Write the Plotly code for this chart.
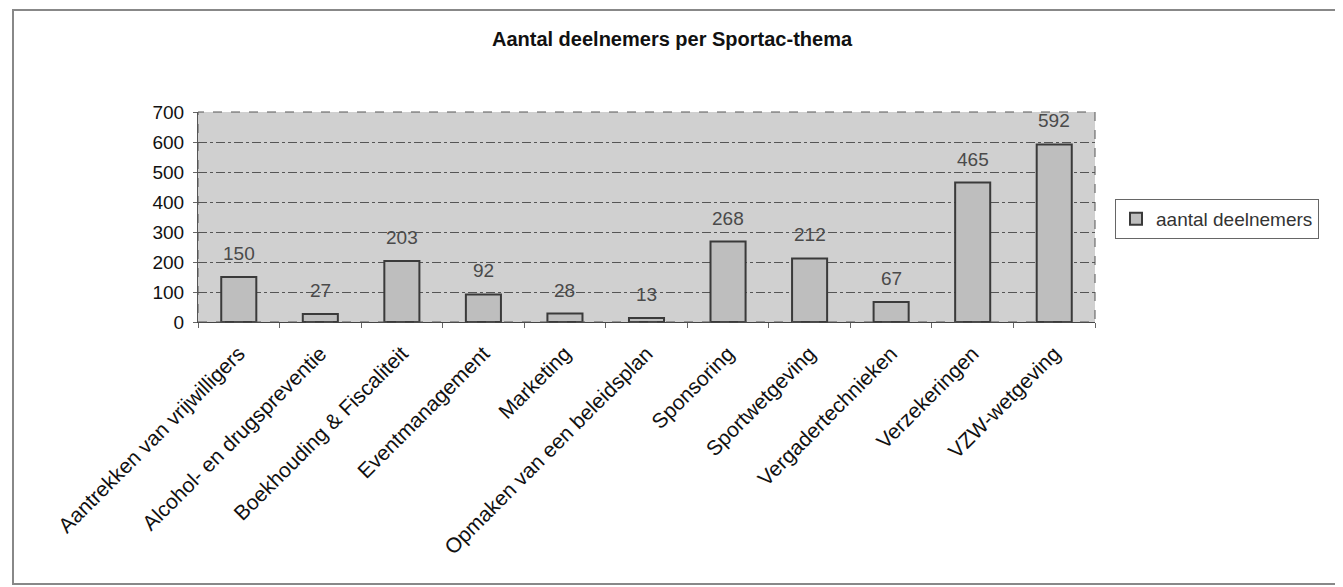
import plotly.graph_objects as go

categories = ["Aantrekken van vrijwilligers", "Alcohol- en drugspreventie",
              "Boekhouding & Fiscaliteit", "Eventmanagement", "Marketing",
              "Opmaken van een beleidsplan", "Sponsoring", "Sportwetgeving",
              "Vergadertechnieken", "Verzekeringen", "VZW-wetgeving"]
values = [150, 27, 203, 92, 28, 13, 268, 212, 67, 465, 592]
series_name = "aantal deelnemers"
y_ticks = [0, 100, 200, 300, 400, 500, 600, 700]

FONT = "Liberation Sans, Arial, sans-serif"

# page body has an 8px margin; work in window pixel coordinates
OFF = 8
WIN_W, WIN_H = 1343, 587
W, H = WIN_W - OFF, WIN_H - OFF
PL, PR, PT, PB = 198, 1095, 112, 322  # plot area in window px
L, R, T, B = PL - OFF, W - (PR - OFF), PT - OFF, H - (PB - OFF)
pw, ph = PR - PL, PB - PT


def px_x(x):
    return (x - PL) / pw


def px_y(y):
    return (PB - y) / ph


fig = go.Figure()
fig.add_trace(go.Bar(
    x=categories, y=values, name=series_name,
    width=0.43,
    marker=dict(color="#bebebe", line=dict(color="#3a3a3a", width=2)),
))

annotations = [
    dict(x=c, y=v, xref="x", yref="y", text=str(v), showarrow=False,
         yanchor="bottom", yshift=11,
         font=dict(family=FONT, size=19, color="#4a4a4a"))
    for c, v in zip(categories, values)
]

fig.update_layout(
    width=W, height=H,
    margin=dict(l=L, r=R, t=T, b=B, autoexpand=False),
    paper_bgcolor="white",
    plot_bgcolor="#d0d0d0",
    font=dict(family=FONT, color="#111"),
    title=dict(text="<b>Aantal deelnemers per Sportac-thema</b>",
               font=dict(family=FONT, size=20, color="#111"),
               x=(672 - OFF) / W, xanchor="center",
               y=1 - (39 - OFF) / H, yanchor="middle"),
    showlegend=True,
    legend=dict(x=px_x(1115), y=px_y(199), xanchor="left", yanchor="top",
                bgcolor="white", bordercolor="#666", borderwidth=1,
                font=dict(family=FONT, size=19, color="#333"),
                itemwidth=30, tracegroupgap=0),
    annotations=annotations,
    xaxis=dict(
        tickangle=-45, tickfont=dict(family=FONT, size=21, color="#111"),
        showline=True, linecolor="#444", linewidth=1,
        ticks="outside", ticklen=5, tickcolor="#666", tickson="boundaries",
        ticklabelstandoff=10,
        showgrid=False,
    ),
    yaxis=dict(
        range=[0, 700], tickvals=y_ticks,
        tickfont=dict(family=FONT, size=19, color="#111"),
        showgrid=True, gridcolor="#555", griddash="dashdot", gridwidth=1,
        showline=True, linecolor="#555", linewidth=1,
        ticks="outside", ticklen=4, tickcolor="#666",
        ticklabelstandoff=5,
        zeroline=False,
    ),
    shapes=[
        dict(type="rect", xref="paper", yref="paper", x0=0, x1=1, y0=0, y1=1,
             line=dict(color="#555", width=1, dash="dash"), layer="above"),
        dict(type="rect", xref="paper", yref="paper",
             x0=px_x(13), x1=px_x(1337), y0=px_y(584), y1=px_y(10),
             line=dict(color="#888", width=2)),
    ],
)

fig.write_html("out.html")
